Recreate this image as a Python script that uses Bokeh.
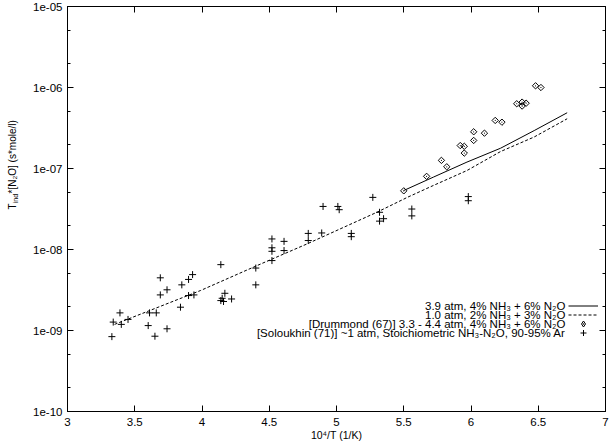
import math
from bokeh.plotting import figure
from bokeh.layouts import row
from bokeh.models import (FixedTicker, CustomJSTickFormatter, LogAxis, LinearAxis,
                          Label, Legend, LegendItem, Range1d)
from bokeh.core.properties import value
from bokeh.embed import file_html
from bokeh.resources import INLINE

# ---------------- data ----------------
# Model curves (10^4/T, tau_ind*[N2O])
solid_x = [5.50, 5.72, 5.97, 6.22, 6.47, 6.715]
solid_y = [5.35e-8, 7.82e-8, 1.20e-7, 1.78e-7, 2.94e-7, 4.88e-7]

dash_x = [3.35, 3.99, 4.41, 4.78, 5.30, 5.53, 5.72, 5.97, 6.22, 6.47, 6.715]
dash_y = [1.19e-9, 3.12e-9, 6.34e-9, 1.17e-8, 2.88e-8, 4.43e-8, 6.17e-8, 9.44e-8,
          1.62e-7, 2.45e-7, 4.11e-7]

# Drummond (67)
drum_x = [5.50, 5.67, 5.78, 5.82, 5.92, 5.95, 5.95, 6.02, 6.02, 6.10, 6.18, 6.23,
          6.34, 6.38, 6.38, 6.41, 6.48, 6.52]
drum_y = [5.3e-8, 8.0e-8, 1.26e-7, 1.05e-7, 1.92e-7, 1.88e-7, 1.55e-7, 2.84e-7,
          2.22e-7, 2.73e-7, 3.92e-7, 3.73e-7, 6.3e-7, 6.6e-7, 5.9e-7, 6.4e-7,
          1.05e-6, 1.0e-6]

# Soloukhin (71)
sol_x = [3.33, 3.34, 3.39, 3.40, 3.45, 3.60, 3.61, 3.66, 3.65, 3.69, 3.69, 3.74,
         3.74, 3.84, 3.85, 3.90, 3.93, 3.90, 3.94, 4.14, 4.14, 4.16, 4.17, 4.15,
         4.22, 4.40, 4.40, 4.52, 4.52, 4.52, 4.52, 4.61, 4.61, 4.79, 4.79, 4.90,
         4.89, 5.01, 5.02, 5.11, 5.11, 5.27, 5.32, 5.32, 5.35, 5.56, 5.56, 5.98,
         5.98]
sol_y = [8.4e-10, 1.27e-9, 1.65e-9, 1.19e-9, 1.37e-9, 1.15e-9, 1.65e-9, 1.65e-9,
         8.5e-10, 4.47e-9, 2.75e-9, 3.18e-9, 1.05e-9, 1.94e-9, 3.66e-9, 4.27e-9,
         4.9e-9, 2.7e-9, 2.75e-9, 6.5e-9, 2.34e-9, 2.28e-9, 2.88e-9, 2.5e-9,
         2.45e-9, 5.9e-9, 3.66e-9, 1.35e-8, 1.05e-8, 9.5e-9, 7.3e-9, 1.26e-8,
         9.7e-9, 1.58e-8, 1.29e-8, 3.4e-8, 1.6e-8, 3.4e-8, 3.1e-8, 1.58e-8,
         1.44e-8, 4.4e-8, 2.88e-8, 2.24e-8, 2.4e-8, 3.16e-8, 2.6e-8, 4.5e-8,
         4.0e-8]

legend_labels = [
    "3.9 atm, 4% NH\u2083 + 6% N\u2082O",
    "1.0 atm, 2% NH\u2083 + 3% N\u2082O",
    "[Drummond (67)] 3.3 - 4.4 atm, 4% NH\u2083 + 6% N\u2082O",
    "[Soloukhin (71)] ~1 atm, Stoichiometric NH\u2083-N\u2082O, 90-95% Ar",
]

x_ticks = [3, 3.5, 4, 4.5, 5, 5.5, 6, 6.5, 7]
x_tick_labels = ["3", "3.5", "4", "4.5", "5", "5.5", "6", "6.5", "7"]
y_ticks = [1e-10, 1e-9, 1e-8, 1e-7, 1e-6, 1e-5]
y_tick_labels = ["1e-10", "1e-09", "1e-08", "1e-07", "1e-06", "1e-05"]
y_minor = [2e-10, 5e-10, 2e-9, 5e-9, 2e-8, 5e-8, 2e-7, 5e-7, 2e-6, 5e-6]

x_title = "10\u2074/T (1/K)"
y_title_parts = ["T", "ind", "*[N\u2082O] (s*mole/l)"]

# ---------------- layout ----------------
FONT = "Liberation Sans"
TICK_FS = "11.5px"
KEY_FS = "11.5px"
H = 444
TW = 20                      # strip holding the y-axis title
W = 609 - TW
ML, MR, MT, MB = 47, 4, 6, 33

p = figure(width=W, height=H, x_range=Range1d(3, 7), y_range=Range1d(1e-10, 1e-5),
           y_axis_type="log", output_backend="svg", toolbar_location=None,
           min_border_left=ML, min_border_right=MR, min_border_top=MT,
           min_border_bottom=MB)
p.xgrid.visible = False
p.ygrid.visible = False
p.outline_line_color = "black"
p.background_fill_color = "white"
p.border_fill_color = "white"

xfmt = CustomJSTickFormatter(args=dict(vals=x_ticks, labs=x_tick_labels), code="""
for (let i = 0; i < vals.length; i++) { if (Math.abs(tick - vals[i]) < 1e-9) return labs[i]; }
return '';""")
yfmt = CustomJSTickFormatter(args=dict(vals=y_ticks, labs=y_tick_labels), code="""
for (let i = 0; i < vals.length; i++) { if (Math.abs(Math.log10(tick) - Math.log10(vals[i])) < 1e-6) return labs[i]; }
return '';""")
blank = CustomJSTickFormatter(code="return '';")


def style(ax):
    ax.axis_line_color = "black"
    ax.axis_line_width = 1
    ax.major_tick_in = 6
    ax.major_tick_out = 0
    ax.minor_tick_in = 3
    ax.minor_tick_out = 0
    ax.major_tick_line_color = "black"
    ax.minor_tick_line_color = "black"
    ax.major_label_text_font = FONT
    ax.major_label_text_font_size = TICK_FS
    ax.major_label_text_color = "black"


xb = p.xaxis[0]
style(xb)
xb.ticker = FixedTicker(ticks=x_ticks, minor_ticks=[])
xb.formatter = xfmt
xb.major_label_standoff = 6
xb.axis_label = x_title
xb.axis_label_text_font = FONT
xb.axis_label_text_font_size = "10.5px"
xb.axis_label_text_font_style = "normal"
xb.axis_label_text_color = "black"
xb.axis_label_standoff = 0

yl = p.yaxis[0]
style(yl)
yl.ticker = FixedTicker(ticks=y_ticks, minor_ticks=y_minor)
yl.formatter = yfmt
yl.major_label_standoff = 5

xt = LinearAxis(ticker=FixedTicker(ticks=x_ticks, minor_ticks=[]), formatter=blank)
style(xt)
xt.major_label_standoff = 0
xt.major_label_text_font_size = "0px"
p.add_layout(xt, "above")

yr = LogAxis(ticker=FixedTicker(ticks=y_ticks, minor_ticks=y_minor), formatter=blank)
style(yr)
yr.major_label_standoff = 0
yr.major_label_text_font_size = "0px"
p.add_layout(yr, "right")

# ---------------- marks ----------------
r_solid = p.line(solid_x, solid_y, line_color="black", line_width=1)
r_dash = p.line(dash_x, dash_y, line_color="black", line_width=1, line_dash="3 2")
r_drum = p.scatter(drum_x, drum_y, marker="square_dot", angle=math.pi / 4, size=4.5,
                   line_color="black", fill_color=None, line_width=1)
r_sol = p.scatter(sol_x, sol_y, marker="cross", size=7, line_color="black", line_width=1)
# key sample for the Drummond diamonds (legend glyphs are never rotated):
# same data, hidden in the plot, shown only in the key
r_drum_key = p.scatter(drum_x, drum_y, marker="diamond_dot", line_color="black",
                       fill_color=None, line_width=1, visible=False)

# ---------------- key (text right-aligned, sample on the right) ----------------
GH = 15
row_centres = [106, 97, 88, 79]      # px above the frame bottom
for txt, yc, r in zip(legend_labels, row_centres, (r_solid, r_dash, r_drum_key, r_sol)):
    p.add_layout(Legend(items=[LegendItem(label=value(" "), renderers=[r])],
                        location=(501, yc - GH / 2), padding=0, margin=0, spacing=0,
                        glyph_width=30, glyph_height=GH, label_height=GH,
                        label_width=0, label_standoff=0, label_text_font_size="6px",
                        border_line_color=None, background_fill_alpha=0,
                        click_policy="none"))
    p.add_layout(Label(x=498, y=yc, x_units="screen", y_units="screen", text=txt,
                       text_align="right", text_baseline="middle", text_font=FONT,
                       text_font_style="normal", text_font_size=KEY_FS,
                       text_color="black"))

# ---------------- y axis title (own strip, with subscript) ----------------
t = figure(width=TW, height=H, output_backend="svg", toolbar_location=None,
           x_axis_type=None, y_axis_type=None, min_border_left=0, min_border_right=0,
           min_border_top=0, min_border_bottom=0)
t.outline_line_color = None
t.xgrid.visible = False
t.ygrid.visible = False
t.background_fill_color = "white"
t.border_fill_color = "white"

tx, ty = 12, 202
common = dict(x_units="screen", y_units="screen", angle=math.pi / 2, text_align="left",
              text_baseline="middle", text_font=FONT, text_font_style="normal",
              text_color="black")
t.add_layout(Label(x=tx, y=ty, text=y_title_parts[0], text_font_size="10px", **common))
t.add_layout(Label(x=tx + 3, y=ty + 6.3, text=y_title_parts[1], text_font_size="7px",
                   **common))
t.add_layout(Label(x=tx, y=ty + 16, text=y_title_parts[2], text_font_size="10px",
                   **common))

layout = row(t, p)
open("out.html", "w").write(file_html(layout, INLINE))
